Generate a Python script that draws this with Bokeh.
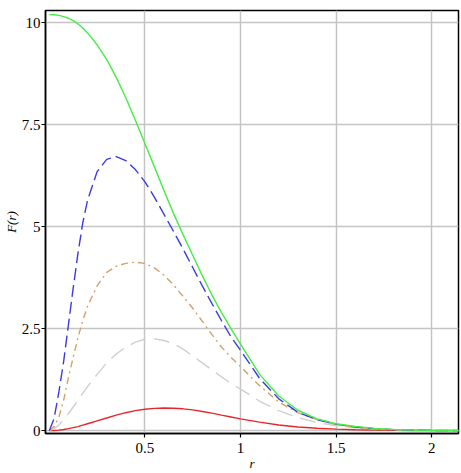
from bokeh.plotting import figure
from bokeh.models import FixedTicker, Range1d
from bokeh.embed import file_html
from bokeh.resources import INLINE

r_vals = [0, 0.025, 0.05, 0.075, 0.1, 0.125, 0.15, 0.175, 0.2, 0.25, 0.3, 0.35, 0.4, 0.45, 0.5,
          0.55, 0.6, 0.65, 0.7, 0.75, 0.8, 0.85, 0.9, 0.95, 1.0, 1.1, 1.2, 1.3, 1.4, 1.5,
          1.6, 1.7, 1.8, 1.9, 2.0, 2.1, 2.15]

green = [10.2, 10.195, 10.18, 10.15, 10.11, 10.05, 9.97, 9.87, 9.75, 9.46, 9.1, 8.66, 8.16, 7.61, 7.04,
         6.46, 5.88, 5.32, 4.8, 4.3, 3.8, 3.33, 2.9, 2.5, 2.12, 1.38, 0.85, 0.5, 0.29, 0.17,
         0.1, 0.055, 0.028, 0.014, 0.007, 0.003, 0.002]
blue = [0, 0.3, 0.95, 1.7, 2.6, 3.5, 4.35, 5.1, 5.65, 6.35, 6.65, 6.72, 6.62, 6.4, 6.1,
        5.72, 5.3, 4.88, 4.45, 4.0, 3.55, 3.12, 2.7, 2.3, 1.97, 1.28, 0.78, 0.45, 0.27, 0.16,
        0.09, 0.05, 0.026, 0.013, 0.006, 0.003, 0.002]
orange = [0, 0.1, 0.33, 0.75, 1.3, 1.8, 2.28, 2.7, 3.05, 3.55, 3.88, 4.03, 4.1, 4.13, 4.1,
          3.99, 3.81, 3.57, 3.29, 3.0, 2.68, 2.36, 2.05, 1.8, 1.57, 1.1, 0.7, 0.44, 0.27, 0.15,
          0.085, 0.045, 0.023, 0.011, 0.005, 0.002, 0.001]
gray = [0, 0.05, 0.14, 0.27, 0.42, 0.58, 0.75, 0.92, 1.08, 1.38, 1.66, 1.88, 2.05, 2.17, 2.24,
        2.25, 2.21, 2.13, 2.0, 1.83, 1.66, 1.49, 1.32, 1.16, 1.02, 0.72, 0.49, 0.32, 0.2, 0.12,
        0.07, 0.04, 0.02, 0.01, 0.005, 0.002, 0.001]
red = [0, 0.004, 0.012, 0.027, 0.05, 0.075, 0.1, 0.135, 0.17, 0.24, 0.31, 0.38, 0.44, 0.49, 0.525,
       0.545, 0.555, 0.55, 0.535, 0.51, 0.47, 0.43, 0.38, 0.335, 0.29, 0.21, 0.14, 0.09, 0.06, 0.037,
       0.022, 0.013, 0.007, 0.004, 0.002, 0.001, 0.001]

x_ticks = [0.5, 1, 1.5, 2]
x_tick_labels = ["0.5", "1", "1.5", "2"]
y_ticks = [0, 2.5, 5, 7.5, 10]
y_tick_labels = ["0", "2.5", "5", "7.5", "10"]
x_title = "r"
y_title = "F(r)"

FONT = "Times New Roman"

p = figure(width=461, height=473, output_backend="svg", toolbar_location=None,
           x_range=Range1d(-0.02, 2.14), y_range=Range1d(-0.07, 10.3),
           min_border_left=43, min_border_right=3, min_border_top=10, min_border_bottom=40)

p.background_fill_color = "white"
p.border_fill_color = "white"
p.outline_line_color = "black"
p.outline_line_width = 1.5

p.xaxis.ticker = FixedTicker(ticks=x_ticks)
p.yaxis.ticker = FixedTicker(ticks=y_ticks)
p.xaxis.major_label_overrides = {t: l for t, l in zip(x_ticks, x_tick_labels)}
p.yaxis.major_label_overrides = {t: l for t, l in zip(y_ticks, y_tick_labels)}

for ax in (p.xaxis[0], p.yaxis[0]):
    ax.axis_line_color = "black"
    ax.axis_line_width = 1.5
    ax.major_tick_line_color = "black"
    ax.major_tick_line_width = 1.2
    ax.major_tick_out = 4
    ax.major_tick_in = 0
    ax.minor_tick_line_color = None
    ax.major_label_text_font = FONT
    ax.major_label_text_font_size = "15px"
    ax.major_label_text_color = "black"
    ax.axis_label_text_font = FONT
    ax.axis_label_text_font_style = "italic"
    ax.axis_label_text_font_size = "13px"
    ax.axis_label_text_color = "black"

p.xaxis.axis_label = x_title
p.yaxis.axis_label = y_title
p.xaxis.major_label_standoff = 5
p.yaxis.major_label_standoff = 1
p.xaxis.axis_label_standoff = 0
p.yaxis.axis_label_standoff = 0

p.xgrid.grid_line_color = "#c4c4c4"
p.ygrid.grid_line_color = "#c4c4c4"
p.xgrid.grid_line_width = 1.5
p.ygrid.grid_line_width = 1.5

p.line(r_vals, red, line_color="#e8262a", line_width=1.4)
p.line(r_vals, gray, line_color="#cfcfcf", line_width=1.4, line_dash="16 8")
p.line(r_vals, orange, line_color="#d4a06a", line_width=1.4, line_dash="7 4 2 4")
p.line(r_vals, blue, line_color="#3a3ae0", line_width=1.4, line_dash="12 5")
p.line(r_vals, green, line_color="#44ee44", line_width=1.4)

open("out.html", "w").write(file_html(p, INLINE))
